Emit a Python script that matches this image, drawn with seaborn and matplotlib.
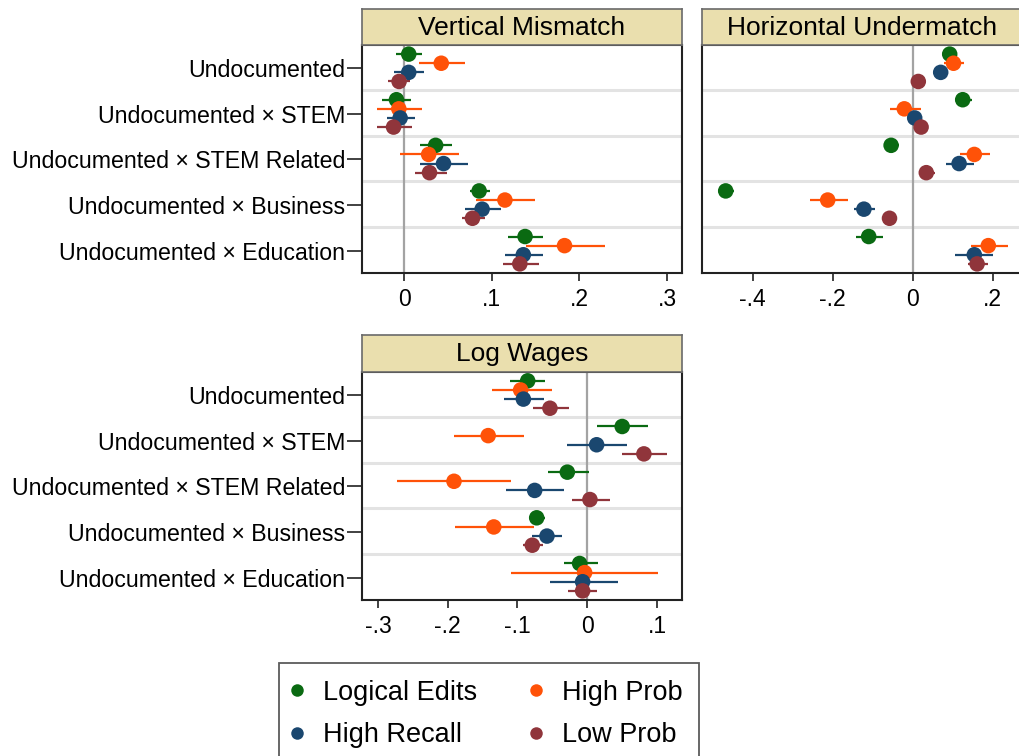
import matplotlib
matplotlib.use("Agg")
import matplotlib.pyplot as plt
from matplotlib.lines import Line2D
import seaborn as sns
import numpy as np
import pandas as pd

# ---------------- data ----------------
categories = ["Undocumented", "Undocumented × STEM", "Undocumented × STEM Related",
              "Undocumented × Business", "Undocumented × Education"]
series = ["Logical Edits", "High Prob", "High Recall", "Low Prob"]
colors = ["#0a6a12", "#ff5208", "#1a476f", "#90353b"]

# Vertical Mismatch
vm_le_est = [0.0053, -0.0087, 0.036, 0.0856, 0.138]
vm_le_lo = [-0.0095, -0.025, 0.018, 0.075, 0.119]
vm_le_hi = [0.0208, 0.008, 0.055, 0.098, 0.158]
vm_hp_est = [0.0424, -0.006, 0.028, 0.115, 0.183]
vm_hp_lo = [0.017, -0.031, -0.005, 0.082, 0.139]
vm_hp_hi = [0.069, 0.020, 0.063, 0.149, 0.229]
vm_hr_est = [0.0053, -0.0045, 0.045, 0.089, 0.136]
vm_hr_lo = [-0.011, -0.020, 0.018, 0.070, 0.115]
vm_hr_hi = [0.023, 0.012, 0.073, 0.111, 0.159]
vm_lp_est = [-0.0057, -0.012, 0.029, 0.078, 0.132]
vm_lp_lo = [-0.018, -0.031, 0.012, 0.066, 0.113]
vm_lp_hi = [0.007, 0.009, 0.049, 0.092, 0.154]

# Horizontal Undermatch
hu_le_est = [0.0925, 0.125, -0.054, -0.4675, -0.11]
hu_le_lo = [0.082, 0.106, -0.073, -0.486, -0.143]
hu_le_hi = [0.103, 0.1475, -0.034, -0.446, -0.075]
hu_hp_est = [0.102, -0.021, 0.154, -0.2125, 0.189]
hu_hp_lo = [0.079, -0.057, 0.118, -0.257, 0.146]
hu_hp_hi = [0.129, 0.021, 0.193, -0.163, 0.2375]
hu_hr_est = [0.070, 0.005, 0.116, -0.122, 0.154]
hu_hr_lo = [0.056, -0.006, 0.083, -0.1475, 0.106]
hu_hr_hi = [0.089, 0.016, 0.1525, -0.094, 0.2017]
hu_lp_est = [0.014, 0.021, 0.034, -0.058, 0.161]
hu_lp_lo = [0.006, 0.013, 0.017, -0.066, 0.1375]
hu_lp_hi = [0.022, 0.029, 0.056, -0.050, 0.189]

# Log Wages
lw_le_est = [-0.0854, 0.050, -0.0286, -0.0725, -0.011]
lw_le_lo = [-0.111, 0.0143, -0.0568, -0.082, -0.034]
lw_le_hi = [-0.060, 0.0874, 0.0024, -0.0606, 0.0158]
lw_hp_est = [-0.0955, -0.142, -0.191, -0.134, -0.0038]
lw_hp_lo = [-0.136, -0.191, -0.272, -0.1895, -0.110]
lw_hp_hi = [-0.0506, -0.0907, -0.110, -0.076, 0.102]
lw_hr_est = [-0.0916, 0.0134, -0.0754, -0.0578, -0.0067]
lw_hr_lo = [-0.120, -0.0286, -0.116, -0.0788, -0.0535]
lw_hr_hi = [-0.0625, 0.0573, -0.033, -0.0363, 0.0434]
lw_lp_est = [-0.0535, 0.0811, 0.0038, -0.0788, -0.0067]
lw_lp_lo = [-0.078, 0.050, -0.0224, -0.0916, -0.0272]
lw_lp_hi = [-0.026, 0.1136, 0.032, -0.063, 0.0143]

vm_ticks = [0, 0.1, 0.2, 0.3]
vm_ticklabels = ["0", ".1", ".2", ".3"]
hu_ticks = [-0.4, -0.2, 0, 0.2]
hu_ticklabels = ["-.4", "-.2", "0", ".2"]
lw_ticks = [-0.3, -0.2, -0.1, 0, 0.1]
lw_ticklabels = ["-.3", "-.2", "-.1", "0", ".1"]

panels = [
    ("Vertical Mismatch",
     [(vm_le_est, vm_le_lo, vm_le_hi), (vm_hp_est, vm_hp_lo, vm_hp_hi),
      (vm_hr_est, vm_hr_lo, vm_hr_hi), (vm_lp_est, vm_lp_lo, vm_lp_hi)],
     (-0.048, 0.317), vm_ticks, vm_ticklabels),
    ("Horizontal Undermatch",
     [(hu_le_est, hu_le_lo, hu_le_hi), (hu_hp_est, hu_hp_lo, hu_hp_hi),
      (hu_hr_est, hu_hr_lo, hu_hr_hi), (hu_lp_est, hu_lp_lo, hu_lp_hi)],
     (-0.5275, 0.2725), hu_ticks, hu_ticklabels),
    ("Log Wages",
     [(lw_le_est, lw_le_lo, lw_le_hi), (lw_hp_est, lw_hp_lo, lw_hp_hi),
      (lw_hr_est, lw_hr_lo, lw_hr_hi), (lw_lp_est, lw_lp_lo, lw_lp_hi)],
     (-0.3228, 0.1357), lw_ticks, lw_ticklabels),
]

# ---------------- style ----------------
sns.set_theme(style="white")
plt.rcParams["font.family"] = ["Liberation Sans", "DejaVu Sans"]

W, H = 1019, 756
fig = plt.figure(figsize=(W / 100, H / 100), dpi=100)
fig.patch.set_facecolor("white")

def px_axes(x0, y0, x1, y1):
    return [x0 / W, 1 - y1 / H, (x1 - x0) / W, (y1 - y0) / H]

axes_px = [(362, 45, 682, 273), (701.7, 45, 1021.7, 273), (362, 371.7, 682, 600)]
title_px = [(362, 9, 682, 45), (701.7, 9, 1021.7, 45), (362, 335, 682, 371.7)]

offsets = [-0.31, -0.11, 0.09, 0.29]
palette = dict(zip(series, colors))

for p, (title, data, xlim, ticks, ticklabels) in enumerate(panels):
    ax = fig.add_axes(px_axes(*axes_px[p]))
    rows = []
    for s_i, (est, lo, hi) in enumerate(data):
        for c_i in range(len(categories)):
            rows.append(dict(series=series[s_i], y=c_i + offsets[s_i],
                             est=est[c_i], lo=lo[c_i], hi=hi[c_i]))
    df = pd.DataFrame(rows)

    # separators and zero line
    for k in range(len(categories) - 1):
        ax.axhline(k + 0.48, color="#e3e3e3", lw=2.2, zorder=0.5)
    ax.axvline(0, color="#a3a3a3", lw=1.6, zorder=1)

    for s in series:
        d = df[df["series"] == s]
        ax.hlines(d["y"], d["lo"], d["hi"], colors=palette[s], lw=1.6, zorder=2)
    sns.scatterplot(data=df, x="est", y="y", hue="series", palette=palette,
                    hue_order=series, s=125, edgecolor="none", linewidth=0,
                    legend=False, ax=ax, zorder=3)

    ax.set_xlim(*xlim)
    ax.set_ylim(len(categories) - 0.51, -0.51)
    ax.set_xticks(ticks)
    ax.set_xticklabels(ticklabels, fontsize=16.5)
    ax.set_xlabel("")
    ax.set_ylabel("")
    ax.tick_params(axis="x", bottom=True, length=6, width=1.3, color="#333333",
                   pad=5, labelcolor="black")
    if p == 1:
        ax.set_yticks([])
    else:
        ax.set_yticks(range(len(categories)))
        ax.set_yticklabels(categories, fontsize=16.7)
        ax.tick_params(axis="y", left=True, length=10.5, width=1.3, color="#333333",
                       pad=1.5, labelcolor="black")
    for sp in ax.spines.values():
        sp.set_color("#222222")
        sp.set_linewidth(1.5)
    ax.set_facecolor("white")

    # title band
    tax = fig.add_axes(px_axes(*title_px[p]))
    tax.set_facecolor("#eadfae")
    tax.set_xticks([])
    tax.set_yticks([])
    for sp in tax.spines.values():
        sp.set_color("#6a6a6a")
        sp.set_linewidth(1.2)
    tax.text(0.5, 0.47, title, ha="center", va="center", fontsize=19,
             color="black", transform=tax.transAxes)

# legend
handles = [Line2D([0], [0], marker="o", linestyle="none", markersize=9,
                  markerfacecolor=c, markeredgecolor="none", label=s)
           for s, c in zip(series, colors)]
order = [0, 2, 1, 3]
leg = fig.legend([handles[i] for i in order], [series[i] for i in order],
                 ncol=2, loc="upper left",
                 bbox_to_anchor=(279.3 / W, 1 - 663.3 / H),
                 fontsize=19.5, frameon=True, fancybox=False,
                 handlelength=0.1, handletextpad=0.92, columnspacing=2.1,
                 labelspacing=0.62, borderpad=0.6, borderaxespad=0)
leg.get_frame().set_edgecolor("#333333")
leg.get_frame().set_linewidth(1.3)
for t in leg.get_texts():
    t.set_color("black")

fig.savefig("out.png", dpi=100, facecolor="white")
